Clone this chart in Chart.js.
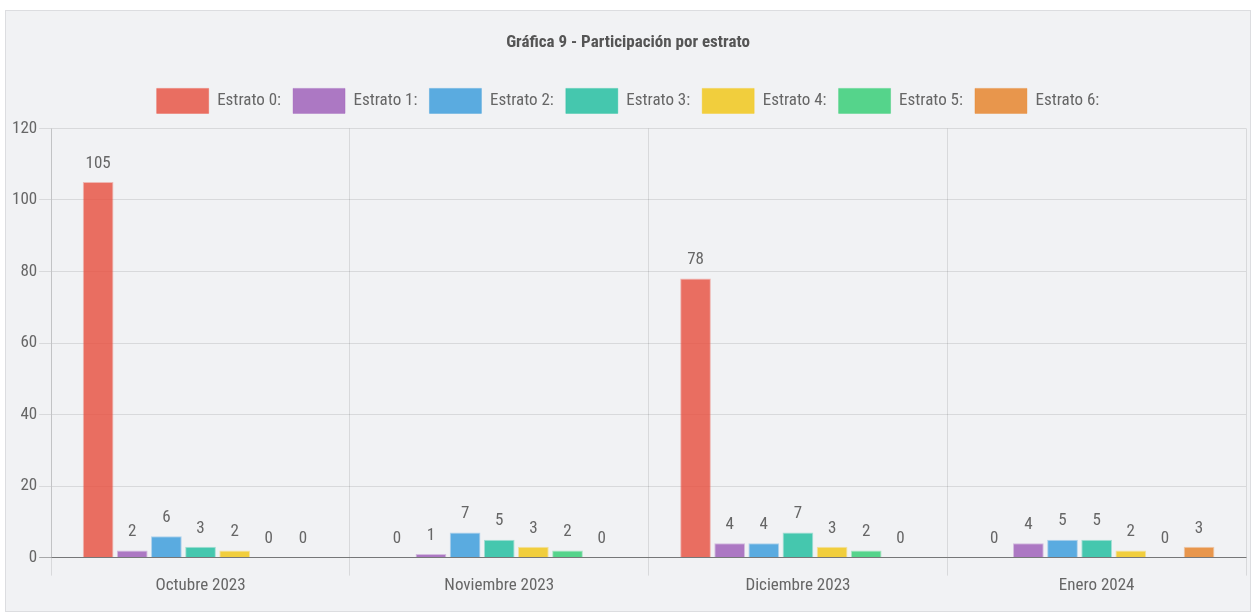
<!DOCTYPE html>
<html>
<head>
<meta charset="utf-8">
<script src="https://cdn.jsdelivr.net/npm/chart.js@4"></script>
<style>
  body { margin: 0; background: #fff; }
  #wrap {
    position: absolute; left: 5px; top: 10px;
    width: 1244px; height: 600px;
    background: #f1f2f4; border: 1px solid #dcdde0;
  }
</style>
</head>
<body>
<div id="wrap"><canvas id="estratoChart"></canvas></div>
<script>
const meses = ['Octubre 2023', 'Noviembre 2023', 'Diciembre 2023', 'Enero 2024'];
const estrato0 = [105, 0, 78, 0];
const estrato1 = [2, 1, 4, 4];
const estrato2 = [6, 7, 4, 5];
const estrato3 = [3, 5, 7, 5];
const estrato4 = [2, 3, 3, 2];
const estrato5 = [0, 2, 2, 0];
const estrato6 = [0, 0, 0, 3];

const FONT = '"Roboto Condensed", "Liberation Sans Narrow", "DejaVu Sans Condensed", sans-serif';
Chart.defaults.font.family = FONT;
Chart.defaults.color = '#666';

function serie(label, data, rgb) {
  return {
    label: label,
    data: data,
    backgroundColor: `rgba(${rgb}, 0.8)`,
    borderColor: `rgba(${rgb}, 0.35)`,
    borderWidth: 1,
  };
}

// valor encima de cada barra
const etiquetas = {
  id: 'etiquetas',
  afterDatasetsDraw(chart) {
    const ctx = chart.ctx;
    ctx.save();
    ctx.font = '17px ' + FONT;
    ctx.fillStyle = '#666';
    ctx.textAlign = 'center';
    ctx.textBaseline = 'bottom';
    chart.data.datasets.forEach((ds, i) => {
      chart.getDatasetMeta(i).data.forEach((bar, j) => {
        ctx.fillText(ds.data[j], bar.x, bar.y - 10);
      });
    });
    ctx.restore();
  }
};

// un poco más de aire entre la leyenda y el área del gráfico
const espacioLeyenda = {
  id: 'espacioLeyenda',
  beforeInit(chart) {
    const fit = chart.legend.fit;
    chart.legend.fit = function () {
      fit.call(this);
      this.height += 5;
    };
  }
};

new Chart(document.getElementById('estratoChart'), {
  type: 'bar',
  data: {
    labels: meses,
    datasets: [
      serie('Estrato 0:', estrato0, '231, 76, 60'),
      serie('Estrato 1:', estrato1, '155, 89, 182'),
      serie('Estrato 2:', estrato2, '52, 152, 219'),
      serie('Estrato 3:', estrato3, '26, 188, 156'),
      serie('Estrato 4:', estrato4, '241, 196, 15'),
      serie('Estrato 5:', estrato5, '46, 204, 113'),
      serie('Estrato 6:', estrato6, '230, 126, 34'),
    ],
  },
  options: {
    responsive: true,
    maintainAspectRatio: false,
    animation: false,
    layout: { padding: { left: 4, right: 4, top: 4, bottom: 15 } },
    datasets: { bar: { categoryPercentage: 0.8, barPercentage: 0.9 } },
    plugins: {
      title: {
        display: true,
        text: 'Gráfica 9 - Participación por estrato',
        color: '#555',
        font: { size: 17, weight: 'bold' },
        padding: { top: 18, bottom: 23 },
      },
      legend: {
        position: 'top',
        labels: {
          boxWidth: 52,
          boxHeight: 25,
          padding: 12,
          color: '#666',
          font: { size: 17 },
        },
      },
      tooltip: { enabled: false },
    },
    scales: {
      x: {
        grid: { offset: true, color: 'rgba(0,0,0,0.1)', tickLength: 18 },
        border: { color: 'rgba(0,0,0,0.3)' },
        ticks: { font: { size: 17 }, color: '#666', padding: 0 },
      },
      y: {
        min: 0,
        max: 120,
        ticks: { stepSize: 20, font: { size: 17 }, color: '#666', padding: 2 },
        grid: {
          color: ctx => ctx.tick && ctx.tick.value === 0 ? 'rgba(0,0,0,0.3)' : 'rgba(0,0,0,0.1)',
          tickLength: 12,
        },
        border: { color: 'rgba(0,0,0,0.1)' },
      },
    },
  },
  plugins: [etiquetas, espacioLeyenda],
});
</script>
</body>
</html>
